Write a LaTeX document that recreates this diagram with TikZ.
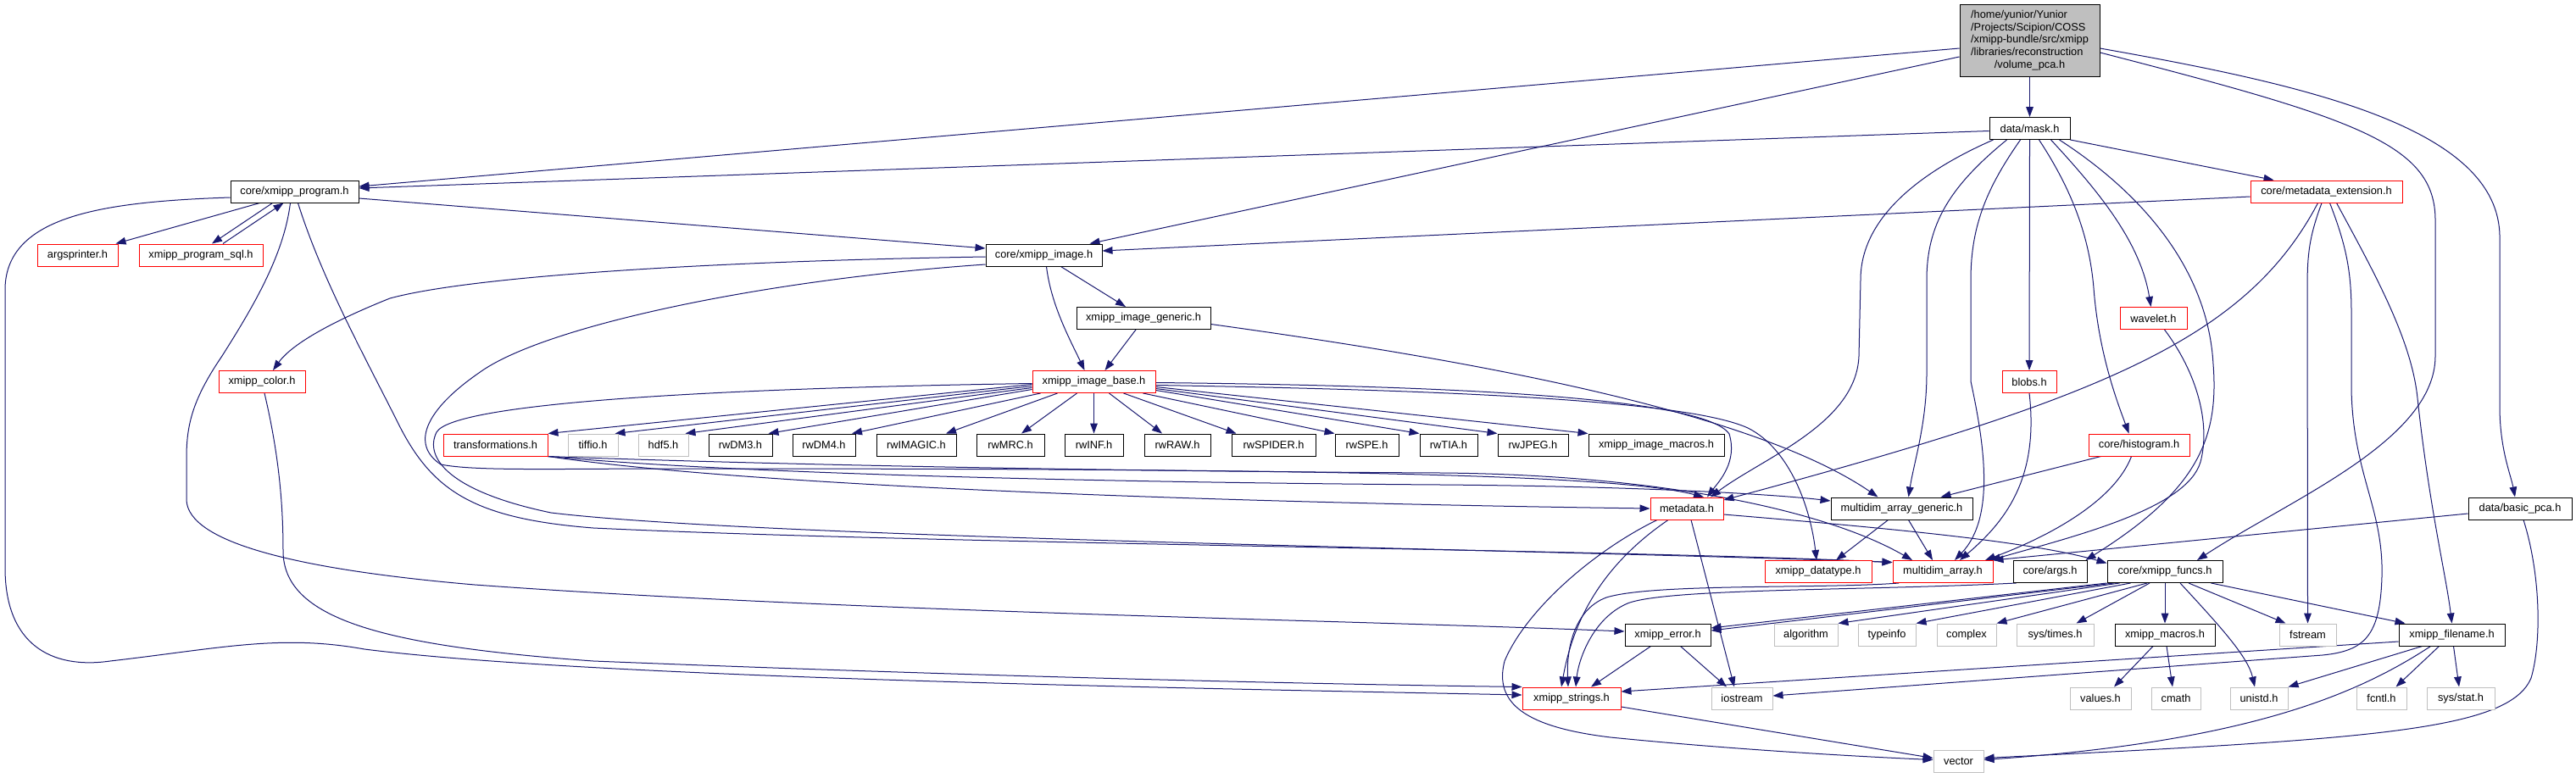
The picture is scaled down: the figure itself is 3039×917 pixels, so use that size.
\documentclass[tikz,border=0pt]{standalone}
\usepackage{fontspec}
\newfontfamily\gfont{Liberation Sans}
\usetikzlibrary{arrows.meta,calc,backgrounds}
\definecolor{edgec}{HTML}{191970}
\definecolor{greyc}{HTML}{BFBFBF}
\definecolor{redc}{HTML}{FF0000}
\tikzset{
  nd/.style={draw, rectangle, inner sep=0pt, minimum height=19.5pt, fill=white, line width=0.75pt,
             font={\gfont\fontsize{9.6pt}{11.1pt}\selectfont}},
  blk/.style={nd, draw=black},
  rd/.style={nd, draw=redc},
  gr/.style={nd, draw=greyc},
  bw/.style={minimum width={#1*0.75pt}},
  ed/.style={draw=edgec, line width=0.75pt, -{Triangle[length=9pt,width=6.5pt]}}
}
\begin{document}
\begin{tikzpicture}[x=0.75pt,y=-0.75pt]
\useasboundingbox (0,0) rectangle (3039,917);

% ---------- nodes ----------
\node[blk, fill=greyc, bw=165, minimum height=63pt] (top) at (2394.5,48)
  {\begin{tabular}{@{}l@{}}/home/yunior/Yunior\\/Projects/Scipion/COSS\\/xmipp-bundle/src/xmipp\\/libraries/reconstruction\\\multicolumn{1}{@{}c@{}}{/volume\_pca.h}\end{tabular}};
\node[blk,bw=95] (mask) at (2394.5,151.5) {data/mask.h};
\node[blk,bw=151] (prog) at (347.5,226) {core/xmipp\_program.h};
\node[rd,bw=179] (mdext) at (2744.5,226) {core/metadata\_extension.h};
\node[rd,bw=95] (aprint) at (91.5,301) {argsprinter.h};
\node[rd,bw=146] (sql) at (237,301) {xmipp\_program\_sql.h};
\node[blk,bw=137] (img) at (1231.5,301) {core/xmipp\_image.h};
\node[blk,bw=158] (gen) at (1349,375.5) {xmipp\_image\_generic.h};
\node[rd,bw=79] (wav) at (2540.5,375.5) {wavelet.h};
\node[rd,bw=102] (color) at (309,450.5) {xmipp\_color.h};
\node[rd,bw=145] (base) at (1290.5,450.5) {xmipp\_image\_base.h};
\node[rd,bw=64] (blobs) at (2394,450.5) {blobs.h};
\node[rd,bw=123] (trans) at (584.5,525) {transformations.h};
\node[gr,bw=59] (tiff) at (699.5,525) {tiffio.h};
\node[gr,bw=59] (hdf) at (782.5,525) {hdf5.h};
\node[blk,bw=75] (dm3) at (873.5,525) {rwDM3.h};
\node[blk,bw=74] (dm4) at (972,525) {rwDM4.h};
\node[blk,bw=94] (imagic) at (1081,525) {rwIMAGIC.h};
\node[blk,bw=80] (mrc) at (1192,525) {rwMRC.h};
\node[blk,bw=69] (inf) at (1290.5,525) {rwINF.h};
\node[blk,bw=78] (raw) at (1389,525) {rwRAW.h};
\node[blk,bw=99] (spider) at (1502.5,525) {rwSPIDER.h};
\node[blk,bw=75] (spe) at (1612.5,525) {rwSPE.h};
\node[blk,bw=68] (tia) at (1709,525) {rwTIA.h};
\node[blk,bw=83] (jpeg) at (1808.5,525) {rwJPEG.h};
\node[blk,bw=160] (macros) at (1954,525) {xmipp\_image\_macros.h};
\node[rd,bw=119] (hist) at (2523.5,525) {core/histogram.h};
\node[rd,bw=86] (meta) at (1990,600) {metadata.h};
\node[blk,bw=167] (mag) at (2243.5,600) {multidim\_array\_generic.h};
\node[blk,bw=122] (bpca) at (2973,600) {data/basic\_pca.h};
\node[rd,bw=126] (dtype) at (2145,674.5) {xmipp\_datatype.h};
\node[rd,bw=118] (ma) at (2292,674.5) {multidim\_array.h};
\node[blk,bw=87] (cargs) at (2418.5,674.5) {core/args.h};
\node[blk,bw=136] (funcs) at (2554,674.5) {core/xmipp\_funcs.h};
\node[blk,bw=101] (err) at (1967.5,749) {xmipp\_error.h};
\node[gr,bw=75] (alg) at (2130.5,749) {algorithm};
\node[gr,bw=68] (tinfo) at (2226,749) {typeinfo};
\node[gr,bw=70] (cplx) at (2320,749) {complex};
\node[gr,bw=91] (times) at (2424.5,749) {sys/times.h};
\node[blk,bw=118] (xmac) at (2554,749) {xmipp\_macros.h};
\node[gr,bw=67] (fstr) at (2722.5,749) {fstream};
\node[blk,bw=125] (fname) at (2892.5,749) {xmipp\_filename.h};
\node[rd,bw=116] (str) at (1854,824) {xmipp\_strings.h};
\node[gr,bw=72] (ios) at (2055,824) {iostream};
\node[gr,bw=72] (vals) at (2478,824) {values.h};
\node[gr,bw=58] (cmath) at (2567,824) {cmath};
\node[gr,bw=68] (unistd) at (2665,824) {unistd.h};
\node[gr,bw=59] (fcntl) at (2809.5,824) {fcntl.h};
\node[gr,bw=80] (sstat) at (2903,824) {sys/stat.h};
\node[gr,bw=59] (vec) at (2310.5,898.5) {vector};

% ---------- edges ----------
\begin{pgfonlayer}{background}
\fill[white] (0,0) rectangle (3039,917);
% volume_pca.h
\draw[ed] ($(top.west)+(0,9)$) -- ($(prog.east)+(0,-6)$);
\draw[ed] ($(top.west)+(0,19)$) -- ($(img.north)+(54,0)$);
\draw[ed] (top.south) -- (mask.north);
\draw[ed] ($(top.east)+(0,14)$) .. controls (2780,140) and (2873,170) .. (2873,260) -- (2873,420)
   .. controls (2873,520) and (2700,590) .. ($(funcs.north)+(38,0)$);
\draw[ed] ($(top.east)+(0,9)$) .. controls (2720,100) and (2949,150) .. (2949,280) -- (2949,480)
   .. controls (2949,530) and (2962,560) .. ($(bpca.north)+(-6,0)$);
% data/mask.h
\draw[ed] ($(mask.west)+(0,3)$) -- ($(prog.east)+(0,-4)$);
\draw[ed] (mask.south east) -- ($(mdext.north)+(-62,0)$);
\draw[ed] ($(mask.south)+(-43,0)$) .. controls (2260,205) and (2195,260) .. (2195,330) -- (2193,420)
   .. controls (2190,500) and (2080,540) .. ($(meta.north)+(28,0)$);
\draw[ed] ($(mask.south)+(-27,0)$) .. controls (2300,220) and (2273,265) .. (2273,330) -- (2273,440)
   .. controls (2273,500) and (2258,545) .. ($(mag.north)+(8,0)$);
\draw[ed] ($(mask.south)+(-11,0)$) .. controls (2345,220) and (2325,265) .. (2325,330) -- (2325,450)
   .. controls (2340,520) and (2355,610) .. ($(ma.north)+(14,0)$);
\draw[ed] (mask.south) -- (blobs.north);
\draw[ed] ($(mask.south)+(11,0)$) .. controls (2445,225) and (2465,280) .. (2470,340)
   .. controls (2476,420) and (2500,480) .. ($(hist.north)+(-12,0)$);
\draw[ed] ($(mask.south)+(25,0)$) .. controls (2475,225) and (2525,285) .. ($(wav.north)+(-3,0)$);
\draw[ed] ($(mask.south)+(35,0)$) .. controls (2530,230) and (2605,320) .. (2611,430)
   .. controls (2618,520) and (2590,580) .. ($(cargs.north)+(42,0)$);
% core/metadata_extension.h
\draw[ed] ($(mdext.west)+(0,6)$) -- ($(img.east)+(0,-5)$);
\draw[ed] ($(mdext.south)+(-10,0)$) .. controls (2650,400) and (2480,470) .. ($(meta.east)+(0,-10)$);
\draw[ed] ($(mdext.south)+(-5.5,0)$) .. controls (2724,280) and (2722,300) .. (2722,340) -- (fstr.north);
\draw[ed] ($(mdext.south)+(4,0)$) .. controls (2768,290) and (2774,320) .. (2774,370) -- (2774,460)
   .. controls (2776,560) and (2812,600) .. (2810,680) .. controls (2808,750) and (2790,768) .. (2740,773)
   -- ($(ios.east)+(0,-3)$);
\draw[ed] ($(mdext.south)+(12,0)$) .. controls (2800,320) and (2845,400) .. (2852,470)
   .. controls (2866,600) and (2886,680) .. (fname.north);
% core/xmipp_program.h
\draw[ed] ($(prog.south)+(-41,0)$) -- ($(aprint.north)+(45,0)$);
\draw[ed] ($(prog.south)+(-26,0)$) -- ($(sql.north)+(13,0)$);
\draw[ed] ($(sql.north)+(26,0)$) -- ($(prog.south)+(-13,0)$);
\draw[ed] ($(prog.east)+(0,8)$) -- ($(img.west)+(0,-8)$);
\draw[ed] ($(prog.west)+(0,7)$) .. controls (120,238) and (8,255) .. (6,340) -- (6,670)
   .. controls (6,760) and (60,790) .. (130,780) .. controls (260,765) and (330,748) .. (430,766)
   .. controls (700,800) and (1400,812) .. ($(str.west)+(0,-4)$);
\draw[ed] ($(prog.south)+(-5,0)$) .. controls (335,300) and (300,360) .. (262,420)
   .. controls (228,470) and (220,500) .. (220,540) -- (220,590)
   .. controls (222,640) and (350,672) .. (560,690) .. controls (1000,722) and (1600,732) .. ($(err.west)+(0,-4)$);
\draw[ed] ($(prog.south)+(4,0)$) .. controls (380,330) and (430,420) .. (470,500)
   .. controls (510,580) and (560,612) .. (700,623) .. controls (1100,642) and (1900,648) .. ($(ma.west)+(0,-11)$);
% core/xmipp_image.h
\draw[ed] ($(img.south)+(20,0)$) -- ($(gen.north)+(-21,0)$);
\draw[ed] ($(img.south)+(3,0)$) .. controls (1240,360) and (1262,400) .. ($(base.north)+(-11,0)$);
\draw[ed] ($(img.west)+(0,2)$) .. controls (850,308) and (560,325) .. (460,352)
   .. controls (395,378) and (345,405) .. ($(color.north)+(13,0)$);
\draw[ed] ($(img.west)+(0,11)$) .. controls (900,330) and (640,385) .. (565,440)
   .. controls (500,485) and (485,525) .. (520,548) .. controls (560,556) and (650,553) .. (800,553)
   .. controls (1500,553) and (1900,558) .. ($(meta.north)+(20,0)$);
% xmipp_image_generic.h
\draw[ed] ($(gen.south)+(-9,0)$) -- ($(base.north)+(13,0)$);
\draw[ed] ($(gen.east)+(0,7)$) .. controls (1700,420) and (2060,480) .. ($(mag.north)+(-28,0)$);
% xmipp_color.h
\draw[ed] ($(color.south)+(3,0)$) .. controls (330,540) and (334,600) .. (334,650)
   .. controls (334,730) and (450,762) .. (700,780) .. controls (1200,800) and (1600,808) .. (str.north west);
% xmipp_image_base.h
\draw[ed] ($(base.west)+(0,3)$) -- (trans.north east);
\draw[ed] ($(base.west)+(0,5)$) -- ($(tiff.north)+(26,0)$);
\draw[ed] ($(base.west)+(0,7)$) -- ($(hdf.north)+(26,0)$);
\draw[ed] ($(base.west)+(0,9)$) -- ($(dm3.north)+(33,0)$);
\draw[ed] ($(base.south west)+(10,0)$) -- ($(dm4.north)+(33,0)$);
\draw[ed] ($(base.south west)+(30,0)$) -- ($(imagic.north)+(35,0)$);
\draw[ed] ($(base.south)+(-20,0)$) -- ($(mrc.north)+(13,0)$);
\draw[ed] (base.south) -- (inf.north);
\draw[ed] ($(base.south)+(18,0)$) -- ($(raw.north)+(-18,0)$);
\draw[ed] ($(base.south)+(35,0)$) -- ($(spider.north)+(-44,0)$);
\draw[ed] ($(base.south east)+(-15,0)$) -- (spe.north west);
\draw[ed] ($(base.east)+(0,10)$) -- (tia.north west);
\draw[ed] ($(base.east)+(0,8)$) -- (jpeg.north west);
\draw[ed] ($(base.east)+(0,6)$) -- (macros.north west);
\draw[ed] ($(base.east)+(0,1)$) .. controls (1700,455) and (2010,468) .. (2040,512)
   .. controls (2050,545) and (2028,568) .. ($(meta.north)+(24,0)$);
\draw[ed] ($(base.east)+(0,4)$) .. controls (1700,460) and (1990,472) .. (2062,505)
   .. controls (2112,530) and (2136,600) .. ($(dtype.north)+(-2,0)$);
\draw[ed] ($(base.west)+(0,2)$) .. controls (850,458) and (535,475) .. (515,510)
   .. controls (500,540) and (530,580) .. (650,605) .. controls (900,635) and (1800,648) .. ($(ma.west)+(0,-11)$);
% transformations.h
\draw[ed] (trans.south east) .. controls (900,548) and (1300,556) .. (1700,558)
   .. controls (1950,560) and (2150,600) .. ($(ma.north)+(-36,0)$);
\draw[ed] (trans.south east) .. controls (900,562) and (1400,570) .. (1700,572)
   .. controls (1950,574) and (2100,584) .. ($(mag.west)+(0,-9)$);
\draw[ed] (trans.south east) .. controls (900,576) and (1500,594) .. (meta.west);
% histogram, blobs, wavelet, basic_pca
\draw[ed] ($(hist.south)+(-45,0)$) -- ($(mag.north)+(46,0)$);
\draw[ed] ($(hist.south)+(-9,0)$) .. controls (2495,590) and (2420,632) .. ($(ma.north)+(50,0)$);
\draw[ed] (blobs.south) .. controls (2405,560) and (2370,612) .. ($(ma.north)+(20,0)$);
\draw[ed] ($(wav.south)+(13,0)$) .. controls (2592,440) and (2608,500) .. (2596,545)
   .. controls (2580,600) and (2450,632) .. ($(ma.north)+(56,0)$);
\draw[ed] ($(bpca.west)+(0,6)$) -- (ma.north east);
\draw[ed] ($(bpca.south)+(4,0)$) .. controls (2998,680) and (2998,760) .. (2986,800)
   .. controls (2960,862) and (2800,872) .. ($(vec.east)+(0,-4)$);
% multidim_array_generic.h
\draw[ed] ($(mag.south)+(-16,0)$) -- ($(dtype.north)+(21,0)$);
\draw[ed] ($(mag.south)+(8,0)$) -- ($(ma.north)+(-12,0)$);
% metadata.h
\draw[ed] ($(meta.east)+(0,7)$) .. controls (2250,625) and (2400,640) .. ($(funcs.west)+(0,-10)$);
\draw[ed] ($(meta.south)+(-22,0)$) .. controls (1900,660) and (1858,720) .. ($(str.north)+(-12,0)$);
\draw[ed] ($(meta.south)+(-35,0)$) .. controls (1880,650) and (1800,720) .. (1775,780)
   .. controls (1762,830) and (1800,858) .. (1900,870) .. controls (2050,885) and (2200,893) .. ($(vec.west)+(0,-2)$);
\draw[ed] ($(meta.south)+(5,0)$) -- ($(ios.north)+(-9,0)$);
% multidim_array.h, core/args.h
\draw[ed] ($(ma.south)+(-52,0)$) .. controls (2150,695) and (1950,688) .. (1895,705)
   .. controls (1855,720) and (1848,770) .. ($(str.north)+(-4,0)$);
\draw[ed] ($(cargs.south)+(-40,0)$) .. controls (2200,697) and (1965,694) .. (1920,712)
   .. controls (1878,730) and (1862,780) .. ($(str.north)+(5,0)$);
% core/xmipp_funcs.h
\draw[ed] (funcs.south west) -- ($(err.east)+(0,-8)$);
\draw[ed] ($(funcs.south west)+(8,0)$) -- ($(err.east)+(0,-5)$);
\draw[ed] ($(funcs.south west)+(15,0)$) -- (alg.north east);
\draw[ed] ($(funcs.south west)+(28,0)$) -- (tinfo.north east);
\draw[ed] ($(funcs.south)+(-21,0)$) -- (cplx.north east);
\draw[ed] ($(funcs.south)+(-18,0)$) -- ($(times.north)+(25,0)$);
\draw[ed] (funcs.south) -- (xmac.north);
\draw[ed] ($(funcs.south)+(18,0)$) .. controls (2620,740) and (2652,775) .. ($(unistd.north)+(-5,0)$);
\draw[ed] ($(funcs.south)+(28,0)$) -- ($(fstr.north west)+(8,0)$);
\draw[ed] ($(funcs.south east)+(-14,0)$) -- ($(fname.north west)+(8,0)$);
% xmipp_macros.h
\draw[ed] ($(xmac.south)+(-14,0)$) -- ($(vals.north)+(16,0)$);
\draw[ed] ($(xmac.south)+(2,0)$) -- ($(cmath.north)+(-4,0)$);
% xmipp_filename.h
\draw[ed] ($(fname.south)+(-35,0)$) -- (unistd.north east);
\draw[ed] ($(fname.south)+(-25,0)$) .. controls (2780,820) and (2650,875) .. ($(vec.east)+(0,-2)$);
\draw[ed] ($(fname.south)+(-15,0)$) -- ($(fcntl.north)+(17,0)$);
\draw[ed] ($(fname.south)+(2,0)$) -- ($(sstat.north)+(-2,0)$);
\draw[ed] ($(fname.west)+(0,8)$) -- ($(str.east)+(0,-8)$);
% xmipp_error.h, xmipp_strings.h
\draw[ed] ($(err.south)+(-20,0)$) -- ($(str.north)+(23,0)$);
\draw[ed] ($(err.south)+(15,0)$) -- ($(ios.north)+(-18,0)$);
\draw[ed] ($(str.east)+(0,10)$) -- ($(vec.west)+(0,-4)$);
\end{pgfonlayer}
\end{tikzpicture}
\end{document}
